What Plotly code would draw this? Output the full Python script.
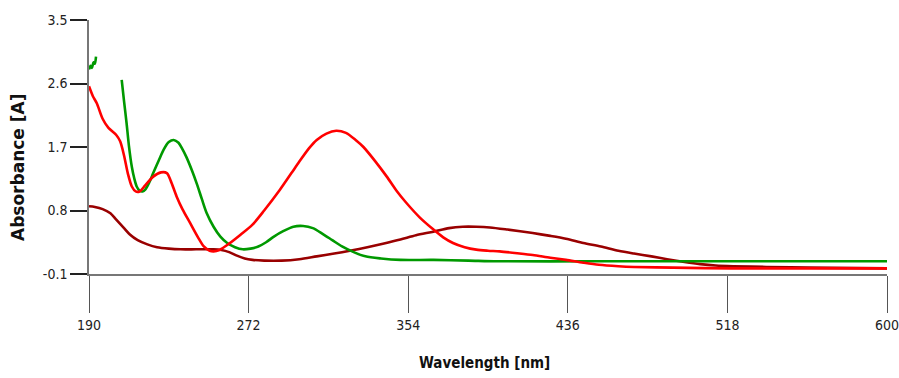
import plotly.graph_objects as go

# ---- data ----
red_x = [190,192,194,197,200,204,206,208,210,212,214,216,219,223,227,230,232,235,238,242,246,249,252,254,257,262,268,274,280,288,294,298,303,307,312,317,322,327,331,337,343,348,353,360,367,372,377,383,389,395,401,410,418,427,435,444,452,462,470,490,520,560,600]
red_y = [2.56,2.42,2.32,2.10,1.97,1.87,1.78,1.58,1.32,1.14,1.07,1.07,1.16,1.28,1.34,1.33,1.22,1.00,0.82,0.62,0.42,0.29,0.23,0.22,0.24,0.33,0.46,0.60,0.80,1.09,1.33,1.49,1.68,1.80,1.89,1.93,1.90,1.80,1.70,1.50,1.28,1.08,0.91,0.70,0.53,0.42,0.34,0.28,0.245,0.23,0.22,0.195,0.17,0.13,0.10,0.06,0.03,0.01,0.00,-0.01,-0.02,-0.02,-0.02]

green_x = [190,190.8,191.5,192.3,193,193.6,None,206.8,208,209.3,210.5,212,213.3,214.5,216,217.5,219,221,223,226,228.5,231,233.5,236,238,240,243,245.5,248,250.5,254,257.5,261,265,269,273,277,281,285,290,295,300,305,310,315,320,326,332,340,350,367,385,400,450,500,600]
green_y = [2.80,2.85,2.82,2.90,2.88,2.98,None,2.65,2.35,2.04,1.72,1.42,1.25,1.14,1.08,1.07,1.10,1.20,1.33,1.52,1.67,1.77,1.80,1.76,1.67,1.56,1.36,1.17,0.96,0.76,0.57,0.43,0.34,0.28,0.25,0.26,0.29,0.35,0.43,0.51,0.57,0.58,0.55,0.47,0.38,0.29,0.21,0.15,0.12,0.10,0.10,0.09,0.08,0.08,0.08,0.08]

dred_x = [190,193,197,201,204,208,211,215,220,225,231,237,245,254,258,262,266,270,274,280,289,298,307,316,324,333,341,350,358,367,375,382,389,396,405,418,427,435,444,453,462,470,479,487,496,504,512,521,538,560,600]
dred_y = [0.86,0.85,0.82,0.76,0.67,0.55,0.46,0.38,0.32,0.28,0.26,0.25,0.25,0.25,0.24,0.21,0.16,0.12,0.10,0.09,0.09,0.11,0.15,0.19,0.23,0.28,0.33,0.39,0.45,0.50,0.55,0.57,0.57,0.56,0.53,0.48,0.44,0.40,0.34,0.29,0.23,0.19,0.15,0.11,0.07,0.04,0.02,0.01,0.00,-0.01,-0.02]

x_ticks = [190, 272, 354, 436, 518, 600]
y_ticks = [-0.1, 0.8, 1.7, 2.6, 3.5]

fig = go.Figure()
fig.add_trace(go.Scatter(x=dred_x, y=dred_y, mode="lines",
                         line=dict(color="#990000", width=2.6, shape="spline", smoothing=0.8)))
fig.add_trace(go.Scatter(x=green_x, y=green_y, mode="lines", connectgaps=False,
                         line=dict(color="#009900", width=2.6, shape="spline", smoothing=0.8)))
fig.add_trace(go.Scatter(x=red_x, y=red_y, mode="lines",
                         line=dict(color="#FF0000", width=2.6, shape="spline", smoothing=0.8)))

tickfont = dict(family="DejaVu Sans Condensed, DejaVu Sans, sans-serif", size=14, color="#222")

fig.update_layout(
    width=899, height=378,
    margin=dict(l=89, r=12, t=20, b=104, autoexpand=False),
    paper_bgcolor="white", plot_bgcolor="white",
    showlegend=False,
    xaxis=dict(range=[190, 600], tickvals=x_ticks, ticktext=[str(v) for v in x_ticks],
               showgrid=False, zeroline=False, showline=True, linecolor="#777", linewidth=1.5,
               ticks="outside", ticklen=37, tickcolor="#555", tickwidth=1,
               ticklabeloverflow="allow", automargin=False,
               tickfont=tickfont),
    yaxis=dict(range=[-0.1, 3.5], tickvals=y_ticks, ticktext=[str(v) for v in y_ticks],
               showgrid=False, zeroline=False, showline=True, linecolor="#777", linewidth=1.5,
               ticks="outside", ticklen=17, tickcolor="#222", tickwidth=1.5,
               automargin=False,
               tickfont=tickfont),
    annotations=[
        dict(text="<b>Wavelength [nm]</b>", xref="paper", yref="paper",
             x=(484 - 89) / 798, y=-(363 - 274) / 254, xanchor="center", yanchor="middle",
             showarrow=False,
             font=dict(family="DejaVu Sans Condensed, DejaVu Sans, sans-serif", size=15, color="#111")),
        dict(text="<b>Absorbance [A]</b>", xref="paper", yref="paper",
             x=-(89 - 18) / 798, y=(274 - 168) / 254, xanchor="center", yanchor="middle",
             textangle=-90, showarrow=False,
             font=dict(family="DejaVu Sans, Verdana, sans-serif", size=17, color="#111")),
    ],
)

fig.write_html("out.html")
